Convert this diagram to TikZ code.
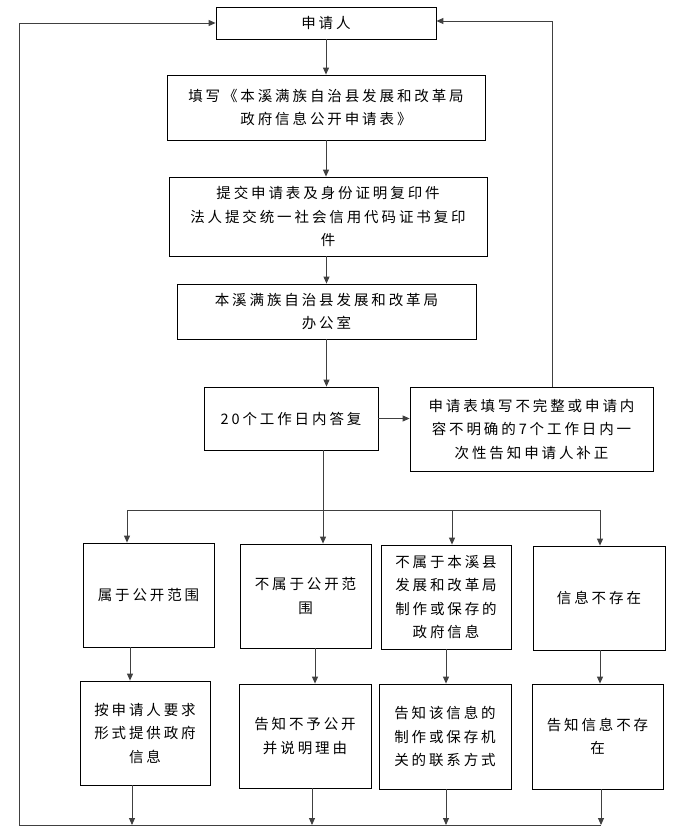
\documentclass[tikz,border=0pt]{standalone}
\usepackage{fontspec}
\newfontfamily\cjk[LetterSpace=20]{Noto Sans CJK SC}
\usetikzlibrary{positioning,arrows.meta}

\begin{document}
\begin{tikzpicture}[x=1pt,y=-1pt,>={Triangle[length=7pt,width=6pt]},
	box/.style={draw,line width=0.8pt,align=center,inner sep=0pt,font=\cjk\fontsize{14.5}{23.5}\selectfont},
	line/.style={draw=black!75,line width=0.9pt}]
	\useasboundingbox (0,0) rectangle (682,837);
	\node[box,minimum width=220pt,minimum height=32pt] (apply) at (326,23) {申请人};
	\node[box,minimum width=318pt,minimum height=65pt] (form) at (326,107.5) {填写《本溪满族自治县发展和改革局\\政府信息公开申请表》};
	\node[box,minimum width=318pt,minimum height=79pt] (submit) at (328,216.5) {提交申请表及身份证明复印件\\法人提交统一社会信用代码证书复印\\件};
	\node[box,minimum width=299pt,minimum height=55pt] (office) at (326.5,311.5) {本溪满族自治县发展和改革局\\办公室};
	\node[box,minimum width=174pt,minimum height=63pt] (reply) at (291,418.5) {20个工作日内答复};
	\node[box,minimum width=243pt,minimum height=84pt] (fix) at (531.5,429) {申请表填写不完整或申请内\\容不明确的7个工作日内一\\次性告知申请人补正};
	\node[box,minimum width=131pt,minimum height=104pt] (r1a) at (148.5,595) {属于公开范围};
	\node[box,minimum width=131pt,minimum height=104pt] (r1b) at (305.5,596) {不属于公开范\\围};
	\node[box,minimum width=130pt,minimum height=104pt] (r1c) at (446,597) {不属于本溪县\\发展和改革局\\制作或保存的\\政府信息};
	\node[box,minimum width=132pt,minimum height=104pt] (r1d) at (599,598) {信息不存在};
	\node[box,minimum width=130pt,minimum height=104pt] (r2a) at (145,733) {按申请人要求\\形式提供政府\\信息};
	\node[box,minimum width=132pt,minimum height=104pt] (r2b) at (305,736) {告知不予公开\\并说明理由};
	\node[box,minimum width=132pt,minimum height=105pt] (r2c) at (445,736.5) {告知该信息的\\制作或保存机\\关的联系方式};
	\node[box,minimum width=131pt,minimum height=105pt] (r2d) at (597.5,736.5) {告知信息不存\\在};
	% split and return points
	\coordinate (ret) at (552,21);
	\coordinate (s1) at (127,510);
	\coordinate (s2) at (323,510);
	\coordinate (s3) at (452,510);
	\coordinate (s4) at (600,510);
	\coordinate (m1) at (130,665);
	\coordinate (m2) at (315,665);
	\coordinate (m3) at (446,665);
	\coordinate (m4) at (600,665);
	\coordinate (e0) at (19,825);
	\coordinate (e1) at (132,825);
	\coordinate (e2) at (312,825);
	\coordinate (e3) at (446,825);
	\coordinate (e4) at (601,825);
	\draw[line,->] (apply) -- (form);
	\draw[line,->] (form) -- (form |- submit.north);
	\draw[line,->] (office |- submit.south) -- (office);
	\draw[line,->] (office) -- (office |- reply.north);
	\draw[line,->] (reply) -- (reply -| fix.west);
	\draw[line,->] (fix.north -| ret) -- (ret) -- (apply.east |- ret);
	\draw[line] (s1) -- (s4);
	\draw[line,->] (reply.south -| s2) -- (r1b.north -| s2);
	\draw[line,->] (s1) -- (r1a.north -| s1);
	\draw[line,->] (s3) -- (r1c.north -| s3);
	\draw[line,->] (s4) -- (r1d.north -| s4);
	\draw[line,->] (r1a.south -| m1) -- (r2a.north -| m1);
	\draw[line,->] (r1b.south -| m2) -- (r2b.north -| m2);
	\draw[line,->] (r1c.south -| m3) -- (r2c.north -| m3);
	\draw[line,->] (r1d.south -| m4) -- (r2d.north -| m4);
	\draw[line,->] (r2a.south -| e1) -- (e1);
	\draw[line,->] (r2b.south -| e2) -- (e2);
	\draw[line,->] (r2c.south -| e3) -- (e3);
	\draw[line,->] (r2d.south -| e4) -- (e4);
	\draw[line] (e4) -- (e0);
	\draw[line,->] (e0) |- (apply.west);
\end{tikzpicture}
\end{document}
